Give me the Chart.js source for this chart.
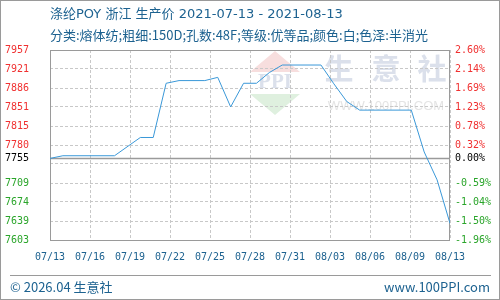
<!DOCTYPE html>
<html>
<head>
<meta charset="utf-8">
<script src="https://cdn.jsdelivr.net/npm/chart.js@4.4.0/dist/chart.umd.min.js"></script>
<style>
  body { margin: 0; background: #fff; }
  #frame { position: absolute; left: 0; top: 0; width: 500px; height: 300px; box-sizing: border-box; border: 1px solid #9a9a9a; }
  #price-chart { position: absolute; left: 0; top: 0; }
  .txt { position: absolute; font-family: 'Noto Sans CJK SC', sans-serif; font-size: 13px; line-height: 16px; color: #1d6290; white-space: nowrap; }
  #title { left: 50px; top: 6px; font-family: 'DejaVu Sans', 'Noto Sans CJK SC', sans-serif; }
  #subtitle { left: 50px; top: 27px; }
  #footer-line { position: absolute; left: 10px; top: 275px; width: 481px; height: 1px; background: #9a9a9a; }
  #copy { left: 10px; top: 279px; }
  #site { right: 10px; top: 279px; }
</style>
</head>
<body>
<div id="frame"></div>
<canvas id="price-chart" width="500" height="300"></canvas>
<div class="txt" id="title">涤纶POY 浙江 生产价 2021-07-13 - 2021-08-13</div>
<div class="txt" id="subtitle">分类:熔体纺;粗细:150D;孔数:48F;等级:优等品;颜色:白;色泽:半消光</div>
<div id="footer-line"></div>
<div class="txt" id="copy">© 2026.04 生意社</div>
<div class="txt" id="site">www.100PPI.com</div>
<script>
// days counted from 2021-07-13, prices
const dayOffsets = [0, 1, 5, 7, 8, 9, 10, 12, 13, 14, 15, 16, 17, 18, 21, 22, 23, 24, 28, 29, 30, 31];
const prices = [7755, 7760, 7760, 7794, 7794, 7895, 7900, 7900, 7906, 7851, 7895, 7895, 7915, 7929, 7929, 7894, 7861, 7845, 7845, 7767, 7715, 7634];
const basePrice = 7755;

const xTickLabels = ['07/13', '07/16', '07/19', '07/22', '07/25', '07/28', '07/31', '08/03', '08/06', '08/09', '08/13'];
const priceTickLabels = ['7603', '7639', '7674', '7709', '', '7780', '7815', '7851', '7886', '7921', '7957'];
const pctTickLabels = ['-1.96%', '-1.50%', '-1.04%', '-0.59%', '', '0.32%', '0.78%', '1.23%', '1.69%', '2.14%', '2.60%'];
const baseLabels = ['7755', '0.00%'];

const yMin = 7603;
const yMax = 7957;
const xMax = 31;

const yStep = (yMax - yMin) / 10;
const xStep = xMax / 10;

function tickIndex(value) {
  return Math.round((value - yMin) / yStep);
}

function tickColor(ctx) {
  const v = ctx.tick.value;
  if (v === basePrice) return '#000';
  return v > basePrice ? '#f03030' : '#2aa52a';
}

function buildYTicks(scale) {
  const ticks = [];
  for (let i = 0; i <= 10; i++) ticks.push({ value: yMin + i * yStep });
  ticks.push({ value: basePrice });
  ticks.sort((a, b) => a.value - b.value);
  scale.ticks = ticks;
}

function yLabel(labels, baseText) {
  return function (value) {
    if (value === basePrice) return baseText;
    return labels[tickIndex(value)];
  };
}

const monoFont = { family: 'DejaVu Sans Mono', size: 10 };

// plot frame
const framePlugin = {
  id: 'frame',
  beforeDatasetsDraw(chart) {
    const a = chart.chartArea;
    const ctx = chart.ctx;
    ctx.save();
    ctx.strokeStyle = '#9a9a9a';
    ctx.lineWidth = 1;
    ctx.strokeRect(a.left + 0.5, a.top + 0.5, a.right - a.left - 1, a.bottom - a.top);
    ctx.restore();
  },
};

// faint site watermark
const watermarkPlugin = {
  id: 'watermark',
  beforeDraw(chart) {
    const ctx = chart.ctx;
    ctx.save();
    ctx.fillStyle = '#f7dede';
    ctx.beginPath();
    ctx.moveTo(250, 72);
    ctx.lineTo(300, 72);
    ctx.lineTo(275, 51);
    ctx.closePath();
    ctx.fill();
    ctx.fillStyle = '#dff0df';
    ctx.beginPath();
    ctx.moveTo(250, 94);
    ctx.lineTo(300, 94);
    ctx.lineTo(275, 115);
    ctx.closePath();
    ctx.fill();
    ctx.fillStyle = '#dbe0eb';
    ctx.font = 'bold 21px "Liberation Serif"';
    ctx.textAlign = 'center';
    ctx.textBaseline = 'middle';
    ctx.fillText('PPI', 275, 83);
    ctx.font = 'bold 29px "Noto Sans CJK SC"';
    ctx.fillText('生', 339, 69);
    ctx.fillText('意', 386, 69);
    ctx.fillText('社', 432, 69);
    ctx.fillStyle = '#e4e4e4';
    ctx.font = '13px "Liberation Sans"';
    ctx.fillText('WWW.100PPI.COM', 386, 106);
    ctx.restore();
  },
};

const chart = new Chart(document.getElementById('price-chart'), {
  type: 'line',
  data: {
    datasets: [
      {
        data: dayOffsets.map((d, i) => ({ x: d, y: prices[i] })),
        borderColor: '#3a98d8',
        borderWidth: 1,
        pointRadius: 0,
        tension: 0,
        fill: false,
      },
      {
        data: [{ x: 0, y: basePrice }, { x: xMax, y: basePrice }],
        borderColor: '#9a9a9a',
        borderWidth: 1.5,
        pointRadius: 0,
        fill: false,
      },
    ],
  },
  options: {
    responsive: false,
    animation: false,
    layout: { padding: { top: 50, left: 0, right: 0, bottom: 0 } },
    plugins: {
      legend: { display: false },
      tooltip: { enabled: false },
    },
    scales: {
      x: {
        type: 'linear',
        min: 0,
        max: xMax,
        afterBuildTicks(scale) {
          scale.ticks = xTickLabels.map((_, i) => ({ value: i * xStep }));
        },
        afterFit(scale) {
          scale.height = 60;
        },
        grid: { color: '#c8c8c8', drawTicks: false },
        border: { display: false, dash: [3, 2] },
        ticks: {
          autoSkip: false,
          maxRotation: 0,
          padding: 11,
          color: '#1d6290',
          font: monoFont,
          callback: (value, index) => xTickLabels[index],
        },
      },
      y: {
        position: 'left',
        min: yMin,
        max: yMax,
        afterBuildTicks: buildYTicks,
        afterFit(scale) {
          scale.width = 50;
        },
        grid: {
          color: (ctx) => (ctx.tick && ctx.tick.value === basePrice ? 'rgba(0,0,0,0)' : '#c8c8c8'),
          drawTicks: false,
        },
        border: { display: false, dash: [3, 2] },
        ticks: {
          autoSkip: false,
          padding: 21,
          color: tickColor,
          font: monoFont,
          callback: yLabel(priceTickLabels, baseLabels[0]),
        },
      },
      y1: {
        position: 'right',
        min: yMin,
        max: yMax,
        afterBuildTicks: buildYTicks,
        afterFit(scale) {
          scale.width = 50;
        },
        grid: { drawOnChartArea: false, drawTicks: false },
        border: { display: false },
        ticks: {
          autoSkip: false,
          padding: 5,
          color: tickColor,
          font: monoFont,
          callback: yLabel(pctTickLabels, baseLabels[1]),
        },
      },
    },
  },
  plugins: [watermarkPlugin, framePlugin],
});
</script>
</body>
</html>
